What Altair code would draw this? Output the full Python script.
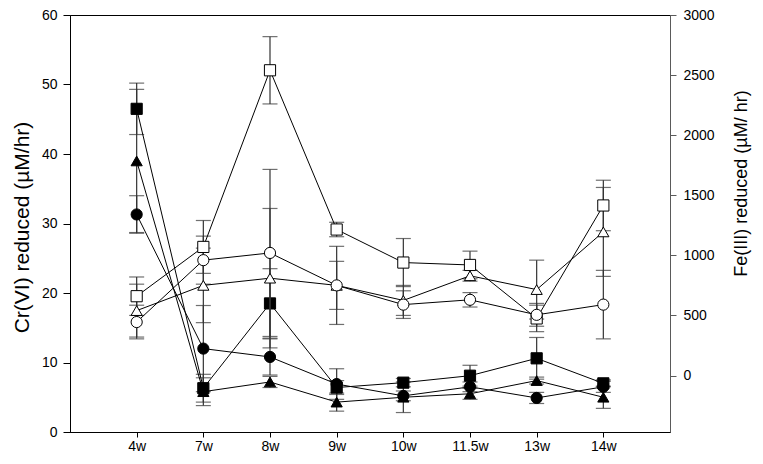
import altair as alt
import pandas as pd

weeks = ["4w", "7w", "8w", "9w", "10w", "11.5w", "13w", "14w"]

# Cr(VI) reduced (left axis), filled symbols
cr_square = [46.5, 6.3, 18.5, 6.4, 7.1, 8.1, 10.6, 7.0]
cr_square_err = [3.7, 2.0, 5.0, 1.0, 0.6, 1.5, 3.0, 0.5]
cr_triangle = [39.0, 5.8, 7.2, 4.3, 5.0, 5.5, 7.4, 5.0]
cr_triangle_err = [10.3, 2.0, 0.8, 1.3, 2.2, 0.8, 0.5, 1.6]
cr_circle = [31.3, 12.0, 10.8, 6.9, 5.2, 6.5, 4.9, 6.5]
cr_circle_err = [2.7, 6.2, 2.6, 2.2, 0.7, 0.7, 0.8, 0.8]

# Fe(III) reduced (right axis), open symbols
fe_square = [660, 1070, 2540, 1215, 940, 920, 475, 1415]
fe_square_err = [160, 220, 280, 60, 200, 115, 110, 210]
fe_triangle = [540, 750, 810, 750, 625, 830, 715, 1195]
fe_triangle_err = [220, 310, 580, 200, 125, 45, 245, 370]
fe_circle = [445, 960, 1020, 750, 590, 630, 505, 590]
fe_circle_err = [140, 200, 695, 325, 115, 60, 95, 285]


def frame(series):
    rows = []
    for name, vals, errs in series:
        for w, v, e in zip(weeks, vals, errs):
            rows.append({"week": w, "series": name, "value": v, "lo": v - e, "hi": v + e})
    return pd.DataFrame(rows)


cr_df = frame([("square", cr_square, cr_square_err),
               ("triangle-up", cr_triangle, cr_triangle_err),
               ("circle", cr_circle, cr_circle_err)])
fe_df = frame([("square", fe_square, fe_square_err),
               ("triangle-up", fe_triangle, fe_triangle_err),
               ("circle", fe_circle, fe_circle_err)])

x_enc = alt.X("week:N", sort=weeks, scale=alt.Scale(type="point", padding=1),
              axis=alt.Axis(title=None, labelAngle=0, tickSize=5, labelPadding=2,
                            domainColor="black", tickColor="black"))
shape_scale = alt.Scale(domain=["square", "triangle-up", "circle"],
                        range=["square", "triangle-up", "circle"])


def group(df, ydomain, axis, fill, err_color):
    sc = alt.Scale(domain=ydomain, nice=False, zero=False)
    y = alt.Y("value:Q", scale=sc, axis=axis)
    base = alt.Chart(df)
    rules = base.mark_rule(color=err_color, strokeWidth=1.2).encode(
        x=x_enc, y=alt.Y("lo:Q", scale=sc, axis=axis), y2="hi:Q")
    cap_lo = base.mark_tick(color=err_color, size=15, thickness=1.2).encode(
        x=x_enc, y=alt.Y("lo:Q", scale=sc, axis=axis))
    cap_hi = base.mark_tick(color=err_color, size=15, thickness=1.2).encode(
        x=x_enc, y=alt.Y("hi:Q", scale=sc, axis=axis))
    lines = base.mark_line(color="black", strokeWidth=1).encode(
        x=x_enc, y=y, detail="series:N")
    pts = base.mark_point(filled=True, size=125, opacity=1, stroke="black",
                          strokeWidth=1, fill=fill).encode(
        x=x_enc, y=y, shape=alt.Shape("series:N", scale=shape_scale, legend=None))
    return alt.layer(rules, cap_lo, cap_hi, lines, pts)


left_axis = alt.Axis(title="Cr(VI) reduced (µM/hr)", orient="left",
                     values=[0, 10, 20, 30, 40, 50, 60], grid=False, tickSize=7, labelPadding=6,
                     domainColor="black", tickColor="black",
                     titleAngle=270, titleX=-48, titleY=212, titleBaseline="middle",
                     titleAlign="center", titleFontSize=21)
right_axis = alt.Axis(title="Fe(III) reduced (µM/ hr)", orient="right", format="d",
                      values=[0, 500, 1000, 1500, 2000, 2500, 3000], grid=False,
                      tickSize=6, labelPadding=7,
                      domainColor="#5a5a5a", tickColor="#5a5a5a",
                      titleAngle=270, titleX=71, titleY=168, titleBaseline="middle",
                      titleAlign="center", titleFontSize=18)

left = group(cr_df, [0, 60], left_axis, "black", "#333333")
right = group(fe_df, [-470, 3000], right_axis, "white", "#333333")

chart = alt.layer(left, right).resolve_scale(y="independent").properties(
    width=600, height=417,
    padding={"left": 62, "top": 7, "right": 85, "bottom": 23},
    autosize=alt.AutoSizeParams(type="none"),
).configure_view(stroke="black", strokeWidth=1).configure_axis(
    labelFont="Liberation Sans", titleFont="Liberation Sans",
    labelFontSize=14, titleFontWeight="normal",
    labelColor="black", titleColor="black", grid=False
)

chart.save("out.html", embed_options={"renderer": "svg", "actions": False})
